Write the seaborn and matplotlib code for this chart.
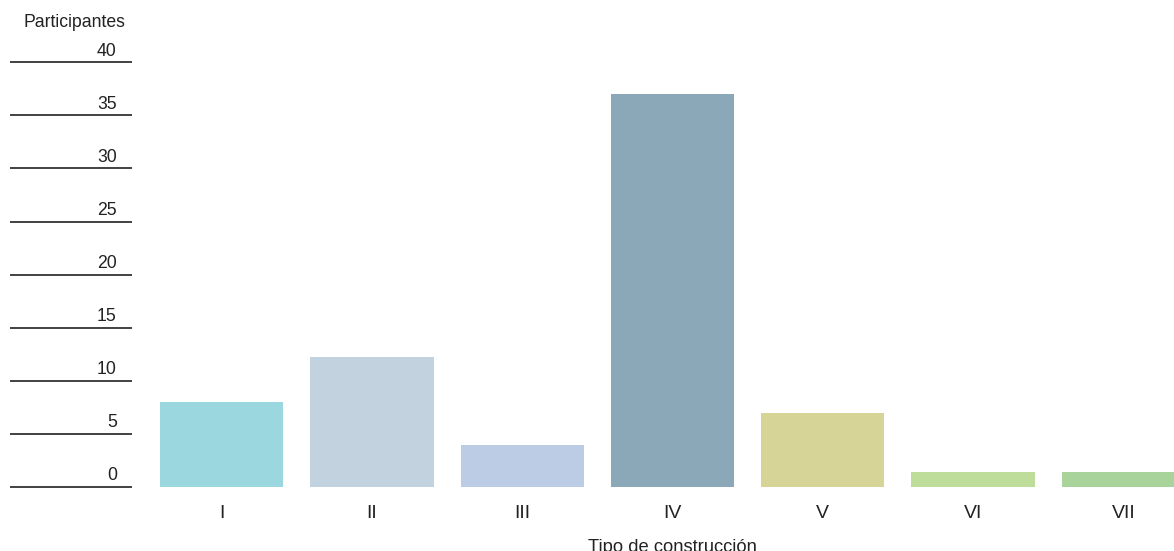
import matplotlib
matplotlib.use("Agg")
import matplotlib.pyplot as plt
import matplotlib.transforms as mtransforms
import seaborn as sns
import pandas as pd

categories = ["I", "II", "III", "IV", "V", "VI", "VII"]
values = [8, 12.2, 4, 37, 7, 1.4, 1.4]
colors = ["#9BD7DE", "#C2D3DF", "#BCCCE4", "#8AA8B8", "#D6D497", "#BEDD9B", "#A8D49B"]
y_ticks = [0, 5, 10, 15, 20, 25, 30, 35, 40]
y_title = "Participantes"
x_title = "Tipo de construcción"

sns.set_theme(style="white")
plt.rcParams["font.family"] = ["Liberation Sans", "DejaVu Sans"]
TXT = "#222222"

W, H = 1174, 551
fig = plt.figure(figsize=(W / 100, H / 100), dpi=100)

bottom = (H - 487) / H
top = (H - 62.3) / H
# main bar axes (extends past right edge as in reference)
ax = fig.add_axes([146.5 / W, bottom, 1052 / W, top - bottom])
df = pd.DataFrame({"cat": categories, "val": values})
sns.barplot(data=df, x="cat", y="val", hue="cat", palette=colors, legend=False,
            width=0.82, saturation=1, linewidth=0, ax=ax)
ax.set_ylim(0, 40)
ax.set_xlim(-0.5, len(categories) - 0.5)
for s in ax.spines.values():
    s.set_visible(False)
ax.set_yticks([])
ax.set_ylabel("")
ax.set_xlabel(x_title, fontsize=13.2, color=TXT, labelpad=12)
ax.tick_params(axis="x", length=0, pad=13, labelsize=14, labelcolor=TXT)
ax.set_facecolor("none")

# left scale axes
ax2 = fig.add_axes([10 / W, bottom, 122 / W, top - bottom])
ax2.set_ylim(0, 40)
ax2.set_xlim(0, 1)
for s in ax2.spines.values():
    s.set_visible(False)
ax2.set_xticks([])
ax2.set_yticks([])
ax2.set_facecolor("none")
ax2.hlines(y_ticks, 0, 1, color="#333333", linewidth=1.3, clip_on=False)
off = mtransforms.offset_copy(ax2.transData, fig=fig, x=0, y=6.5, units="dots")
for t in y_ticks:
    ax2.text(0.875, t, str(t), transform=off, ha="right", va="baseline",
             fontsize=12.7, color=TXT)

fig.text(125 / W, (H - 27) / H, y_title, ha="right", va="baseline",
         fontsize=12.7, color=TXT)

fig.savefig("out.png", dpi=100, facecolor="white")
